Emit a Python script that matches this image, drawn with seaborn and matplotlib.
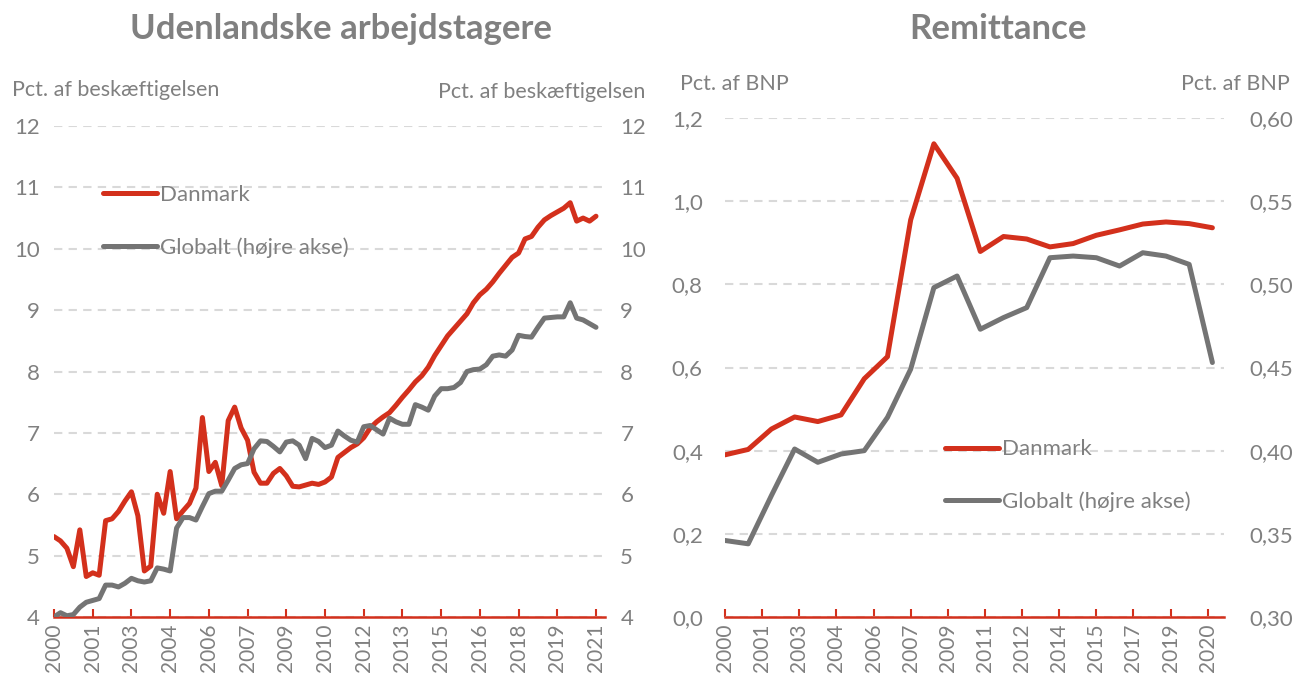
import numpy as np
import pandas as pd
import matplotlib
matplotlib.use("Agg")
import matplotlib.pyplot as plt
import seaborn as sns

# ---------------------------------------------------------------------------
# Data
# ---------------------------------------------------------------------------

# Left panel: quarterly, 2000K1 - 2021K1 (85 quarters)
dk_workers = [
    5.31, 5.24, 5.12, 4.82, 5.42, 4.66, 4.72, 4.68, 5.57, 5.60,
    5.72, 5.89, 6.04, 5.65, 4.75, 4.83, 6.00, 5.69, 6.37, 5.60,
    5.73, 5.85, 6.10, 7.25, 6.37, 6.52, 6.14, 7.20, 7.42, 7.08,
    6.88, 6.36, 6.18, 6.18, 6.34, 6.42, 6.30, 6.13, 6.12, 6.15,
    6.18, 6.16, 6.20, 6.28, 6.60, 6.68, 6.76, 6.82, 6.92, 7.08,
    7.18, 7.26, 7.33, 7.45, 7.58, 7.70, 7.83, 7.93, 8.07, 8.26,
    8.42, 8.58, 8.70, 8.82, 8.94, 9.12, 9.25, 9.34, 9.46, 9.60,
    9.73, 9.86, 9.93, 10.16, 10.20, 10.35, 10.47, 10.54, 10.60, 10.66,
    10.75, 10.45, 10.50, 10.45, 10.53,
]
global_workers = [
    4.00, 4.07, 4.02, 4.04, 4.16, 4.24, 4.27, 4.30, 4.52, 4.52,
    4.49, 4.55, 4.63, 4.59, 4.57, 4.59, 4.80, 4.78, 4.75, 5.45,
    5.62, 5.62, 5.58, 5.80, 6.01, 6.05, 6.05, 6.23, 6.42, 6.48,
    6.50, 6.74, 6.87, 6.86, 6.78, 6.69, 6.85, 6.87, 6.80, 6.58,
    6.91, 6.86, 6.76, 6.80, 7.03, 6.95, 6.88, 6.85, 7.10, 7.12,
    7.05, 6.98, 7.24, 7.18, 7.14, 7.14, 7.46, 7.42, 7.37, 7.60,
    7.72, 7.72, 7.74, 7.82, 8.00, 8.03, 8.04, 8.11, 8.25, 8.27,
    8.25, 8.35, 8.59, 8.57, 8.56, 8.72, 8.87, 8.88, 8.89, 8.89,
    9.12, 8.87, 8.84, 8.78, 8.72,
]
left_tick_labels = ["2000", "2001", "2003", "2004", "2006", "2007", "2009", "2010",
                    "2012", "2013", "2015", "2016", "2018", "2019", "2021"]

# Right panel: remittances, 22 observations
dk_remit = [0.39, 0.403, 0.452, 0.481, 0.470, 0.486, 0.573, 0.626, 0.955, 1.138,
            1.055, 0.879, 0.915, 0.909, 0.890, 0.898, 0.918, 0.931, 0.945, 0.950,
            0.946, 0.936]
global_remit = [0.346, 0.344, 0.373, 0.401, 0.393, 0.398, 0.400, 0.420, 0.449, 0.498,
                0.505, 0.473, 0.480, 0.486, 0.516, 0.517, 0.516, 0.511, 0.519, 0.517,
                0.512, 0.453]
right_tick_labels = ["2000", "2001", "2003", "2004", "2006", "2007", "2009", "2011",
                     "2012", "2014", "2015", "2017", "2019", "2020"]

RED = "#D3301C"
GREY = "#747474"
TEXT = "#808080"
GRID = "#D9D9D9"
FONT = "Lato"

sns.set_theme(style="white")
plt.rcParams["font.family"] = [FONT, "DejaVu Sans"]

fig = plt.figure(figsize=(12.95, 6.81), dpi=100)
W, H = 1295, 681


def axes_box(x0, x1, ytop, ybot):
    return [x0 / W, 1 - ybot / H, (x1 - x0) / W, (ybot - ytop) / H]


def style_axes(ax, ax2, ylim, yticks, ylabels, ylim2, yticks2, ylabels2, pad_l, pad_r):
    ax.set_ylim(*ylim)
    ax.set_yticks(yticks)
    ax.set_yticklabels(ylabels)
    ax2.set_ylim(*ylim2)
    ax2.set_yticks(yticks2)
    ax2.set_yticklabels(ylabels2)
    ax.grid(axis="y", color=GRID, linestyle=(0, (4, 3)), linewidth=1.5)
    ax.grid(axis="x", visible=False)
    ax.set_axisbelow(True)
    for a in (ax, ax2):
        for s in ("top", "left", "right", "bottom"):
            a.spines[s].set_visible(False)
        a.set_xlabel("")
        a.set_ylabel("")
    ax.spines["bottom"].set_visible(True)
    ax.spines["bottom"].set_color(RED)
    ax.spines["bottom"].set_linewidth(1.8)
    ax.tick_params(axis="y", length=0, pad=pad_l, labelsize=16, labelcolor=TEXT)
    ax2.tick_params(axis="y", length=0, pad=pad_r, labelsize=16, labelcolor=TEXT)
    ax.tick_params(axis="x", bottom=True, direction="in", length=6, width=1.5,
                   color=RED, labelsize=15, labelcolor=TEXT, rotation=90, pad=5)


def add_legend(ax, ax2, anchor):
    handles = ax.get_lines()[:1] + ax2.get_lines()[:1]
    ax.legend(handles, ["Danmark", "Globalt (højre akse)"], loc="upper left",
              bbox_to_anchor=anchor, frameon=False, borderpad=0, borderaxespad=0,
              handlelength=2.45, handletextpad=0.12, labelspacing=1.45,
              fontsize=16, labelcolor=TEXT)


# ---------------------------------------------------------------------------
# Left panel
# ---------------------------------------------------------------------------
q = np.arange(len(dk_workers))
df_left = pd.DataFrame({"q": q, "Danmark": dk_workers, "Globalt": global_workers})

axL = fig.add_axes(axes_box(54, 605, 126, 617))
axL2 = axL.twinx()
sns.lineplot(data=df_left, x="q", y="Danmark", ax=axL, color=RED, linewidth=3.6,
             legend=False)
sns.lineplot(data=df_left, x="q", y="Globalt", ax=axL2, color=GREY, linewidth=3.6,
             legend=False)
axL.set_xlim(0, 84 * (605 - 54) / (596 - 54))
axL.set_xticks(np.arange(0, 85, 6))
axL.set_xticklabels(left_tick_labels)
style_axes(axL, axL2, (4, 12), range(4, 13), [str(v) for v in range(4, 13)],
           (4, 12), range(4, 13), [str(v) for v in range(4, 13)], 10, 11)
add_legend(axL, axL2, (0.089, 0.88))

# ---------------------------------------------------------------------------
# Right panel
# ---------------------------------------------------------------------------
t = np.arange(len(dk_remit))
df_right = pd.DataFrame({"t": t, "Danmark": dk_remit, "Globalt": global_remit})

axR = fig.add_axes(axes_box(725, 1224, 118, 617))
axR2 = axR.twinx()
sns.lineplot(data=df_right, x="t", y="Danmark", ax=axR, color=RED, linewidth=3.6,
             legend=False)
sns.lineplot(data=df_right, x="t", y="Globalt", ax=axR2, color=GREY, linewidth=3.6,
             legend=False)
axR.set_xlim(0, 21.5)
axR.set_xticks(np.arange(len(right_tick_labels)) * 1.6)
axR.set_xticklabels(right_tick_labels)
l_ticks = np.arange(0, 1.21, 0.2)
r_ticks = np.arange(0.30, 0.601, 0.05)
style_axes(axR, axR2, (0, 1.2), l_ticks, [f"{v:.1f}".replace(".", ",") for v in l_ticks],
           (0.30, 0.60), r_ticks, [f"{v:.2f}".replace(".", ",") for v in r_ticks], 16, 18)
add_legend(axR, axR2, (0.44, 0.356))

# ---------------------------------------------------------------------------
# Titles and unit labels
# ---------------------------------------------------------------------------
fig.text(341 / W, 1 - 29 / H, "Udenlandske arbejdstagere", ha="center", va="center",
         fontsize=25, fontweight="bold", color=TEXT)
fig.text(998 / W, 1 - 29 / H, "Remittance", ha="center", va="center",
         fontsize=25, fontweight="bold", color=TEXT)
fig.text(12 / W, 1 - 90 / H, "Pct. af beskæftigelsen", ha="left", va="center",
         fontsize=15.5, color=TEXT)
fig.text(645 / W, 1 - 92 / H, "Pct. af beskæftigelsen", ha="right", va="center",
         fontsize=15.5, color=TEXT)
fig.text(680 / W, 1 - 84 / H, "Pct. af BNP", ha="left", va="center",
         fontsize=15.5, color=TEXT)
fig.text(1290 / W, 1 - 84 / H, "Pct. af BNP", ha="right", va="center",
         fontsize=15.5, color=TEXT)

fig.savefig("out.png", dpi=100)
